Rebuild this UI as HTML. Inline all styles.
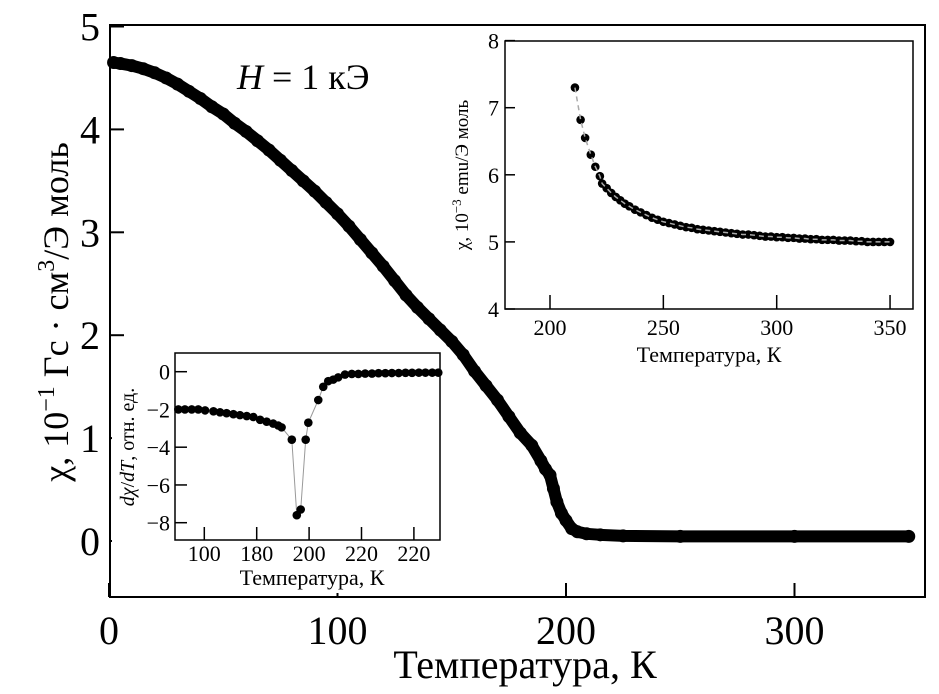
<!DOCTYPE html>
<html><head><meta charset="utf-8">
<style>
html,body{margin:0;padding:0;background:#fff;}
svg{display:block;font-family:"Liberation Serif","DejaVu Serif",serif;}
</style></head>
<body>
<svg id="chart" width="939" height="694" viewBox="0 0 939 694" xmlns="http://www.w3.org/2000/svg">
<rect x="0" y="0" width="939" height="694" fill="#fff"/>
<g id="main"></g>
<g id="inset1"></g>
<g id="inset2"></g>
</svg>
<script>
// ---- main chart data ----
const mainT = [2,5,10,15,20,25,30,35,40,45,50,55,60,65,70,75,80,85,90,95,100,105,110,115,120,125,130,135,140,145,150,155,160,165,170,175,180,185,189,191,193,194.5,196,198,200,202.5,205,209,215,225,250,300,350];
const mainChi = [4.65,4.64,4.62,4.59,4.55,4.5,4.44,4.37,4.3,4.22,4.15,4.06,3.98,3.89,3.8,3.7,3.6,3.5,3.4,3.29,3.18,3.06,2.93,2.8,2.67,2.53,2.39,2.27,2.16,2.05,1.94,1.81,1.65,1.51,1.37,1.21,1.05,0.93,0.78,0.7,0.64,0.51,0.38,0.27,0.2,0.12,0.09,0.07,0.06,0.05,0.045,0.045,0.045];
const mainXTicks = [0,100,200,300];
const mainYTicks = [0,1,2,3,4,5];
// ---- upper inset data ----
const in1T = [211,213.5,215.5,218,220,222,223,225,227,229,231,233,235,237.5,240,242.5,245,247.5,250,252.5,255,257.5,260,262.5,265,267.5,270,272.5,275,277.5,280,282.5,285,287.5,290,292.5,295,297.5,300,302.5,305,307.5,310,312.5,315,317.5,320,322.5,325,327.5,330,332.5,335,337.5,340,342.5,345,347.5,350];
const in1Chi = [7.3,6.82,6.55,6.3,6.12,5.98,5.87,5.8,5.73,5.67,5.62,5.57,5.53,5.48,5.44,5.4,5.36,5.33,5.3,5.28,5.26,5.24,5.22,5.21,5.19,5.18,5.17,5.16,5.15,5.14,5.13,5.12,5.11,5.11,5.1,5.09,5.08,5.08,5.07,5.07,5.06,5.06,5.05,5.05,5.04,5.04,5.03,5.03,5.03,5.02,5.02,5.02,5.01,5.01,5.0,5.0,5.0,5.0,5.0];
const in1XTicks = [200,250,300,350];
const in1YTicks = [4,5,6,7,8];
// ---- lower inset data ----
const in2T = [150.1,152.6,155.2,157.7,160.3,163.5,166,168.5,171.1,173.6,176.2,178.7,181.3,183.8,186.3,188.2,189.5,193.4,195.3,196.8,198.7,199.7,203.5,205.4,207.3,209.2,211.1,213.7,216.3,218.8,221.4,224,226.5,229.1,231.6,234.2,236.8,239.3,241.9,244.4,247,249.3];
const in2D = [-2.0,-2.0,-2.0,-2.0,-2.05,-2.1,-2.15,-2.2,-2.25,-2.3,-2.35,-2.4,-2.55,-2.65,-2.75,-2.85,-2.95,-3.6,-7.6,-7.3,-3.6,-2.7,-1.5,-0.8,-0.5,-0.42,-0.3,-0.15,-0.12,-0.12,-0.1,-0.1,-0.08,-0.08,-0.07,-0.07,-0.06,-0.06,-0.05,-0.05,-0.05,-0.05];
const in2XTickVals = [160,180,200,220,240];
const in2XTickLabels = ["100","180","200","220","220"];
const in2YTicks = [0,-2,-4,-6,-8];

const NS="http://www.w3.org/2000/svg";
function mk(parent,tag,attrs,text){const e=document.createElementNS(NS,tag);for(const k in attrs)e.setAttribute(k,attrs[k]);if(text!==undefined)e.textContent=text;parent.appendChild(e);return e;}

// ===== MAIN =====
(function(){
  const g=document.getElementById('main');
  const L=110,R=925,T=25,B=597;
  const x=t=>109+t*2.285, y=v=>541-v*102.9;
  const fr=mk(g,'rect',{x:L,y:T,width:R-L,height:B-T,fill:'none',stroke:'#000','stroke-width':2});
  
  
  mainXTicks.forEach(t=>{
    const l=mk(g,'line',{x1:x(t),x2:x(t),y1:B,y2:B-14,stroke:'#000','stroke-width':2});
    
    
    const tx=mk(g,'text',{x:x(t),y:B+47,'font-size':40,'text-anchor':'middle'},String(t));
    
    
  });
  mainYTicks.forEach(v=>{
    const l=mk(g,'line',{x1:L,x2:L+14,y1:y(v),y2:y(v),stroke:'#000','stroke-width':2});
    
    
    const tx=mk(g,'text',{x:L-10,y:y(v)+14,'font-size':40,'text-anchor':'end'},String(v));
    
    
  });
  const xt=mk(g,'text',{x:525,y:678,'font-size':40,'text-anchor':'middle'},'Температура, К');
  
  
  const yt=mk(g,'text',{transform:'translate(68,312) rotate(-90)','font-size':36,'text-anchor':'middle'});
  
  
  yt.innerHTML='χ, 10<tspan dy="-14" font-size="24">−1</tspan><tspan dy="14"> Гс · см</tspan><tspan dy="-14" font-size="24">3</tspan><tspan dy="14">/Э моль</tspan>';
  const lab=mk(g,'text',{x:237,y:89,'font-size':36});
  
  
  lab.innerHTML='<tspan font-style="italic">H</tspan> = 1 кЭ';
  const pts=mainT.map((t,i)=>x(t)+','+y(mainChi[i])).join(' ');
  const pl=mk(g,'polyline',{points:pts,fill:'none',stroke:'#000','stroke-width':12,'stroke-linejoin':'round','stroke-linecap':'round'});
  
  
  mainT.forEach((t,i)=>{
    const c=mk(g,'circle',{cx:x(t),cy:y(mainChi[i]),r:6.5,fill:'#000'});
    
    
  });
})();

// ===== UPPER INSET =====
(function(){
  const g=document.getElementById('inset1');
  const L=505,R=913,T=41,B=309;
  const x=t=>550+(t-200)*2.267, y=v=>309-(v-4)*67.1;
  const bg=mk(g,'rect',{x:L,y:T,width:R-L,height:B-T+65,fill:'#fff'});
  
  
  const fr=mk(g,'rect',{x:L,y:T,width:R-L,height:B-T,fill:'none',stroke:'#000','stroke-width':1.5});
  
  
  in1XTicks.forEach(t=>{
    const l=mk(g,'line',{x1:x(t),x2:x(t),y1:B,y2:B-14,stroke:'#000','stroke-width':1.5});
    
    
    const tx=mk(g,'text',{x:x(t),y:B+26,'font-size':22,'text-anchor':'middle'},String(t));
    
    
  });
  in1YTicks.forEach(v=>{
    const l=mk(g,'line',{x1:L,x2:L+10,y1:y(v),y2:y(v),stroke:'#000','stroke-width':1.5});
    
    
    const tx=mk(g,'text',{x:L-6,y:y(v)+8,'font-size':22,'text-anchor':'end'},String(v));
    
    
  });
  const xt=mk(g,'text',{x:709,y:362,'font-size':22,'text-anchor':'middle'},'Температура, К');
  
  
  const yt=mk(g,'text',{transform:'translate(468,175) rotate(-90)','font-size':19,'text-anchor':'middle'});
  
  
  yt.innerHTML='χ, 10<tspan dy="-7" font-size="13">−3</tspan><tspan dy="7"> emu/Э моль</tspan>';
  in1T.forEach((t,i)=>{
    const c=mk(g,'circle',{cx:x(t),cy:y(in1Chi[i]),r:4.3,fill:'#000'});
    
    
  });
  const pts=in1T.map((t,i)=>x(t)+','+y(in1Chi[i])).join(' ');
  const pl=mk(g,'polyline',{points:pts,fill:'none',stroke:'#aaa','stroke-width':1.5,'stroke-dasharray':'5,4'});
  
  
})();

// ===== LOWER INSET =====
(function(){
  const g=document.getElementById('inset2');
  const L=175,R=440,T=353,B=540;
  const x=t=>256.7+(t-180)*2.62, y=v=>371.7-v*18.875;
  const bg=mk(g,'rect',{x:112,y:350,width:330,height:243,fill:'#fff'});
  
  
  const fr=mk(g,'rect',{x:L,y:T,width:R-L,height:B-T,fill:'none',stroke:'#000','stroke-width':1.5});
  
  
  in2XTickVals.forEach((t,i)=>{
    const l=mk(g,'line',{x1:x(t),x2:x(t),y1:B,y2:B-13,stroke:'#000','stroke-width':1.5});
    
    
    const tx=mk(g,'text',{x:x(t),y:B+21,'font-size':22,'text-anchor':'middle'},in2XTickLabels[i]);
    
    
  });
  in2YTicks.forEach(v=>{
    const l=mk(g,'line',{x1:L,x2:L+12,y1:y(v),y2:y(v),stroke:'#000','stroke-width':1.5});
    
    
    const tx=mk(g,'text',{x:L-5,y:y(v)+8,'font-size':22,'text-anchor':'end'},v<0?'−'+(-v):String(v));
    
    
  });
  const xt=mk(g,'text',{x:312,y:585,'font-size':22,'text-anchor':'middle'},'Температура, К');
  
  
  const yt=mk(g,'text',{transform:'translate(134,447) rotate(-90)','font-size':20,'text-anchor':'middle'});
  
  
  yt.innerHTML='<tspan font-style="italic">dχ</tspan>/<tspan font-style="italic">dT</tspan>, отн. ед.';
  const pts=in2T.map((t,i)=>x(t)+','+y(in2D[i])).join(' ');
  const pl=mk(g,'polyline',{points:pts,fill:'none',stroke:'#999','stroke-width':1});
  
  
  in2T.forEach((t,i)=>{
    const c=mk(g,'circle',{cx:x(t),cy:y(in2D[i]),r:4.3,fill:'#000'});
    
    
  });
})();
</script>
</body></html>
